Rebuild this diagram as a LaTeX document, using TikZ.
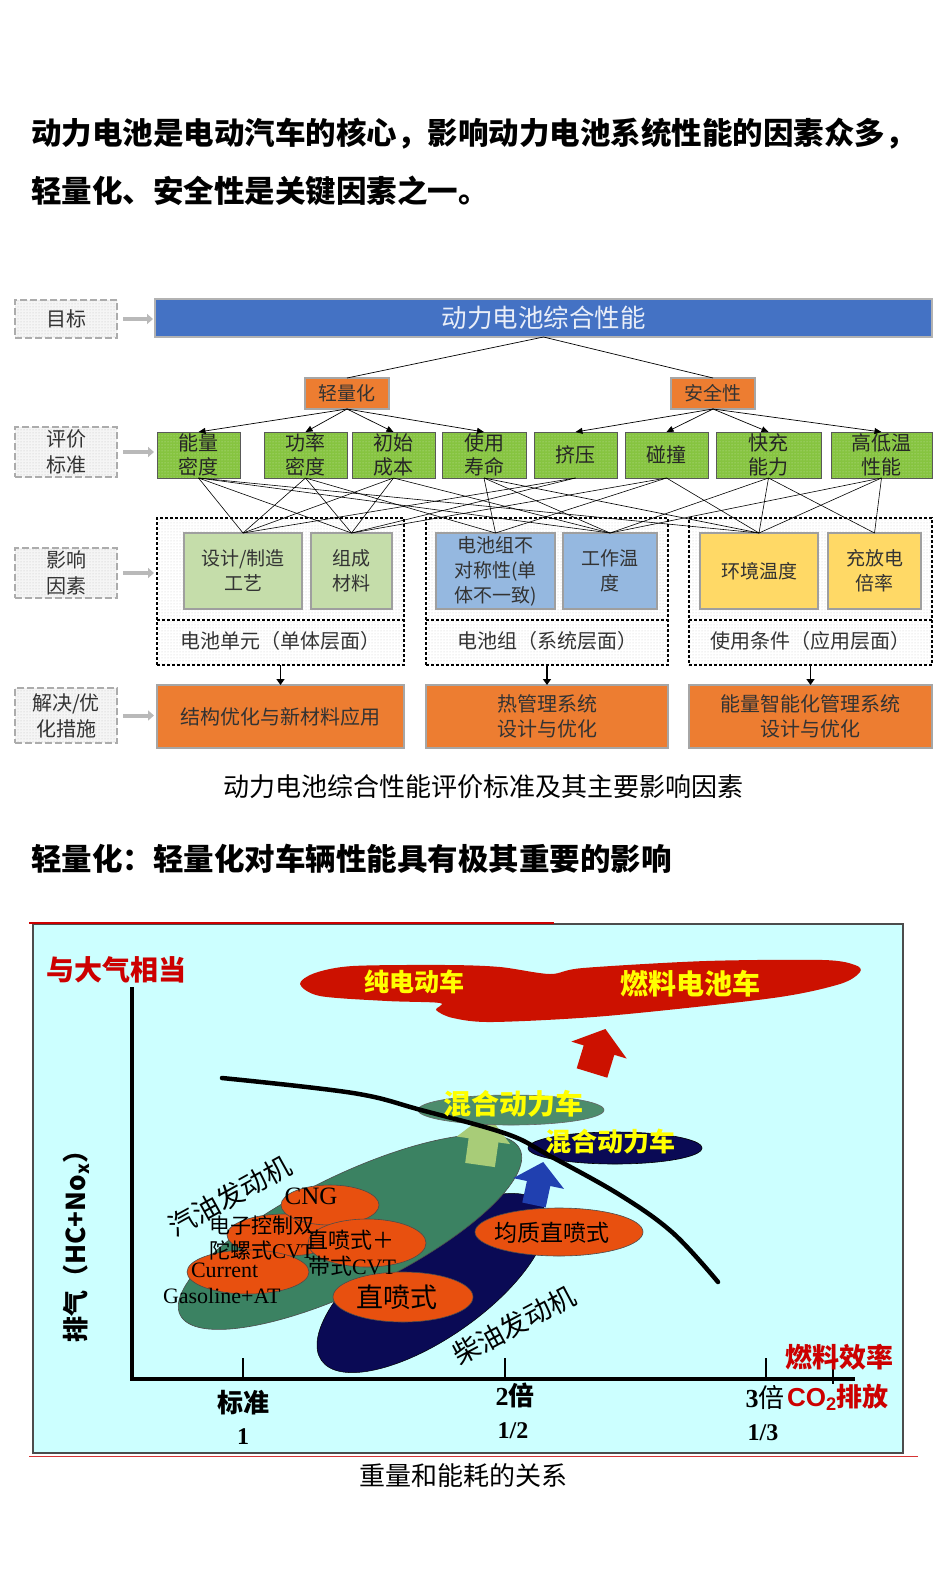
\documentclass[tikz,border=0pt]{standalone}
\usepackage{fontspec}
\setmainfont{Noto Sans CJK SC}
\newfontfamily\lserif{Liberation Serif}
\newfontfamily\lsans{Liberation Sans}
\usetikzlibrary{arrows.meta,patterns,calc}
\newcommand\fsz[2]{\fontsize{#1}{#2}\selectfont}
\definecolor{barblue}{HTML}{4472C4}
\definecolor{solorange}{HTML}{ED7D31}
\definecolor{critgreen}{HTML}{86C440}
\definecolor{factgreen}{HTML}{C5DDAA}
\definecolor{factblue}{HTML}{95B8E0}
\definecolor{factgold}{HTML}{FFD966}
\definecolor{chartbg}{HTML}{CCFFFF}
\definecolor{redcloud}{HTML}{CC1100}
\definecolor{redT}{HTML}{CC0000}
\definecolor{greenE}{HTML}{3B8262}
\definecolor{hybgreen}{HTML}{4C8C6C}
\definecolor{navyE}{HTML}{0A0A55}
\definecolor{orangeE}{HTML}{E8500F}
\definecolor{lgarrow}{HTML}{A8CC78}
\definecolor{bluearrow}{HTML}{2040B0}
\definecolor{yellowT}{HTML}{FFFF00}
\begin{document}
\begin{tikzpicture}[x=1pt,y=-1pt,
  every node/.style={inner sep=0pt, outer sep=0pt},
  lblbox/.style={draw=gray!65, dash pattern=on 7pt off 3pt, line width=1.2pt, preaction={fill=gray!8}, pattern=dots, pattern color=gray!50, minimum width=102pt, text=black!80, font=\fsz{20}{26}, align=center},
  critbox/.style={draw=gray!70!black, line width=0.8pt, preaction={fill=critgreen}, pattern=dots, pattern color=white!55!critgreen, minimum height=46pt, text=black!85, font=\fsz{20}{24}, align=center},
  factbox/.style={draw=gray!75, line width=1.6pt, minimum height=76pt, text=black!80, font=\fsz{19}{25}, align=center},
  grpbox/.style={draw=black, dash pattern=on 3pt off 2pt, line width=1.2pt, preaction={fill=white}, pattern=dots, pattern color=gray!40, minimum height=147pt},
  grpline/.style={draw=black, dash pattern=on 3pt off 2pt, line width=1.2pt},
  solbox/.style={draw=gray!70, line width=1.2pt, fill=solorange, minimum height=63pt, text=black!80, font=\fsz{20}{25}, align=center},
  midbox/.style={draw=gray!70, line width=1.2pt, fill=solorange, minimum width=84pt, minimum height=31pt, text=black!80, font=\fsz{19}{22}},
  webline/.style={draw=black, line width=0.6pt},
  harrow/.style={draw=gray!55, line width=4pt, -{Triangle[length=6pt,width=10pt]}},
  treearrow/.style={draw=black, line width=0.7pt, -{Triangle[length=7pt,width=6pt]}},
  grparrow/.style={draw=black, line width=1.8pt, -{Triangle[length=6pt,width=8pt]}},
  oell/.style={fill=orangeE, draw=black!70, line width=0.6pt}
]
\useasboundingbox (0,0) rectangle (946,1576);
\fill[white] (0,0) rectangle (946,1576);

% headline
\node[anchor=west, font=\fsz{30.5}{34}\bfseries] (h1) at (31,134) {动力电池是电动汽车的核心，影响动力电池系统性能的因素众多，};
\node[anchor=west, font=\fsz{30.5}{34}\bfseries] (h2) at (31,191) {轻量化、安全性是关键因素之一。};

% left labels
\node[lblbox, minimum height=38pt] (l1) at (66,319) {目标};
\node[lblbox, minimum height=50pt] (l2) at (66,452) {评价\\标准};
\node[lblbox, minimum height=50pt] (l3) at (66,573) {影响\\因素};
\node[lblbox, minimum height=55pt] (l4) at (66,715.5) {解决/优\\化措施};

% goal
\node[draw=gray!60, line width=1.2pt, fill=barblue, minimum width=777pt, minimum height=38pt, text=white!88!barblue, font=\fsz{25.5}{28}] (goal) at (543.5,318) {动力电池综合性能};
\node[midbox] (light) at (347,393.5) {轻量化};
\node[midbox] (safe) at (713,393.5) {安全性};
\draw[line width=0.7pt] (goal.south) -- (light.north);
\draw[line width=0.7pt] (goal.south) -- (safe.north);

% criteria
\node[critbox, minimum width=83pt] (nE) at (198.5,455) {能量\\密度};
\node[critbox, minimum width=83pt] (nP) at (305.5,455) {功率\\密度};
\node[critbox, minimum width=83pt] (nC) at (393.5,455) {初始\\成本};
\node[critbox, minimum width=84pt] (nL) at (484,455) {使用\\寿命};
\node[critbox, minimum width=83pt] (nS) at (575.5,455) {挤压};
\node[critbox, minimum width=83pt] (nK) at (666.5,455) {碰撞};
\node[critbox, minimum width=105pt] (nF) at (768.5,455) {快充\\能力};
\node[critbox, minimum width=101pt] (nT) at (881.5,455) {高低温\\性能};

\foreach \c in {nE,nP,nC,nL} \draw[treearrow] (light.south) -- (\c.north);
\foreach \c in {nS,nK,nF,nT} \draw[treearrow] (safe.south) -- (\c.north);

% groups
\node[grpbox, minimum width=247pt] (g1) at (280.5,591.5) {};
\node[grpbox, minimum width=242pt] (g2) at (547,591.5) {};
\node[grpbox, minimum width=243pt] (g3) at (810.5,591.5) {};
\draw[grpline] (157,620) -- (404,620);
\draw[grpline] (426,620) -- (668,620);
\draw[grpline] (689,620) -- (932,620);
\node[text=black!80, font=\fsz{20}{24}] (gl1) at (280.5,641) {电池单元（单体层面）};
\node[text=black!80, font=\fsz{20}{24}] (gl2) at (547,641) {电池组（系统层面）};
\node[text=black!80, font=\fsz{20}{24}] (gl3) at (810.5,641) {使用条件（应用层面）};

% factors
\node[factbox, fill=factgreen, minimum width=118pt] (fD) at (243,571) {设计/制造\\工艺};
\node[factbox, fill=factgreen, minimum width=81pt] (fM) at (351.5,571) {组成\\材料};
\node[factbox, fill=factblue, minimum width=119pt] (fA) at (495.5,571) {电池组不\\对称性(单\\体不一致)};
\node[factbox, fill=factblue, minimum width=94pt] (fW) at (610,571) {工作温\\度};
\node[factbox, fill=factgold, minimum width=118pt] (fH) at (759,571) {环境温度};
\node[factbox, fill=factgold, minimum width=93pt] (fR) at (874.5,571) {充放电\\倍率};

% web
\foreach \a/\b in {nE/fD,nE/fM,nE/fW,nE/fH,nP/fD,nP/fM,nP/fA,nC/fD,nC/fM,nC/fW,nL/fA,nL/fW,nL/fH,nS/fD,nS/fM,nK/fM,nK/fA,nK/fH,nF/fW,nF/fH,nF/fR,nT/fW,nT/fH,nT/fR}
  \draw[webline] (\a.south) -- (\b.north);

% solutions
\node[solbox, minimum width=247pt] (s1) at (280.5,716.5) {结构优化与新材料应用};
\node[solbox, minimum width=242pt] (s2) at (547,716.5) {热管理系统\\设计与优化};
\node[solbox, minimum width=243pt] (s3) at (810.5,716.5) {能量智能化管理系统\\设计与优化};
\draw[grparrow] (g1.south) -- (s1.north);
\draw[grparrow] (g2.south) -- (s2.north);
\draw[grparrow] (g3.south) -- (s3.north);

% side arrows
\draw[harrow] ([xshift=6pt]l1.east) -- ([xshift=-2pt]goal.west |- l1.east);
\draw[harrow] ([xshift=6pt]l2.east) -- ([xshift=-3pt]nE.west |- l2.east);
\draw[harrow] ([xshift=6pt]l3.east) -- ([xshift=-3pt]g1.west |- l3.east);
\draw[harrow] ([xshift=6pt]l4.east) -- ([xshift=-3pt]s1.west |- l4.east);

\node[font=\fsz{26}{30}] (cap1) at (483,787) {动力电池综合性能评价标准及其主要影响因素};

% section heading
\node[anchor=west, font=\fsz{30.5}{34}\bfseries] (h3) at (31,859) {轻量化：轻量化对车辆性能具有极其重要的影响};

% chart frame
\filldraw[fill=chartbg, draw=gray!60!black, line width=1.2pt] (33,924) rectangle (903,1453);
\draw[redT, line width=1.6pt] (29,923) -- (554,923);
\draw[redT!80, line width=1pt] (29,1456) -- (918,1456);

% big ellipses
\filldraw[fill=navyE, draw=black, line width=0.5pt, rotate around={35:(432,1283)}] (432,1283) ellipse [x radius=135, y radius=55];
\filldraw[fill=greenE, draw=black!70, line width=0.6pt, rotate around={26:(350,1232)}] (350,1232) ellipse [x radius=189, y radius=57];

% orange ellipses
\filldraw[oell] (285,1235) ellipse [x radius=58, y radius=21];
\filldraw[oell] (330,1205) ellipse [x radius=49, y radius=20];
\filldraw[oell] (248,1272) ellipse [x radius=61, y radius=22];
\filldraw[oell] (367,1243) ellipse [x radius=59, y radius=24];
\filldraw[oell] (403,1297) ellipse [x radius=70, y radius=25];
\filldraw[oell] (559,1232) ellipse [x radius=84, y radius=24];

% small arrows
\fill[lgarrow] (465.2,1162.9) -- (468.6,1138.2) -- (456.8,1136.5) -- (487.2,1113.5) -- (510.2,1144.1) -- (498.4,1142.4) -- (494.9,1167.1) -- cycle;
\fill[bluearrow] (522.3,1202.5) -- (526.9,1181) -- (513.2,1178.1) -- (543.2,1162) -- (564,1188.9) -- (550.3,1186) -- (545.7,1207.5) -- cycle;

% hybrid ellipses
\filldraw[fill=hybgreen, draw=black!60, line width=0.6pt] (511,1110) ellipse [x radius=93, y radius=15];
\filldraw[fill=navyE, draw=black, line width=0.6pt] (615,1148) ellipse [x radius=87, y radius=16];

% curve
\draw[line width=4.5pt, line cap=round] plot[smooth, tension=0.6] coordinates {(222,1078) (353,1093) (421,1110) (507,1134) (550,1156) (620,1195) (673,1233) (718,1282)};

% red cloud and arrow
\fill[redcloud] plot[smooth cycle, tension=0.5] coordinates {(300,984) (315,973) (353,966) (447,965) (500,967) (550,974) (583,968) (706,961) (823,960) (855,965) (860,972) (840,984) (773,998) (606,1016) (493,1022) (453,1018) (436,1010) (440,1003) (387,1001) (320,996)};
\fill[redcloud] (576.7,1068.3) -- (583.7,1045.4) -- (571.3,1041.6) -- (605.4,1029) -- (626.7,1058.6) -- (614.3,1054.8) -- (607.3,1077.7) -- cycle;

% chart texts
\node[font=\fsz{28}{30}\bfseries, text=redT, anchor=west] (t1) at (46,970) {与大气相当};
\node[font=\fsz{25}{28}\bfseries, text=yellowT] (t2) at (414,982) {纯电动车};
\node[font=\fsz{28}{30}\bfseries, text=yellowT] (t3) at (690,984) {燃料电池车};
\node[font=\fsz{28}{30}\bfseries, text=yellowT] (t4) at (513,1104) {混合动力车};
\node[font=\fsz{26}{28}\bfseries, text=yellowT] (t5) at (610,1142) {混合动力车};
\node[font=\fsz{27}{30}, rotate=29] (t6) at (230,1196) {汽油发动机};
\node[font=\fsz{27}{30}, rotate=28] (t7) at (514,1325) {柴油发动机};
\node[font=\fsz{25}{28}\lserif] (t8) at (311,1196) {CNG};
\node[font=\fsz{21}{24}, anchor=west] (t9) at (209,1226) {电子控制双};
\node[font=\fsz{21}{24}, anchor=west] (t10) at (209,1251) {陀螺式{\lserif CVT}};
\node[font=\fsz{22}{24}\lserif, anchor=west] (t11) at (191,1270) {Current};
\node[font=\fsz{22}{24}\lserif, anchor=west] (t12) at (163,1296) {Gasoline+AT};
\node[font=\fsz{22}{24}, anchor=west] (t13) at (306,1240) {直喷式＋};
\node[font=\fsz{22}{24}, anchor=west] (t14) at (308,1266) {带式{\lserif CVT}};
\node[font=\fsz{27}{30}] (t15) at (397,1297) {直喷式};
\node[font=\fsz{23}{26}] (t16) at (552,1233) {均质直喷式};

% axes
\draw[line width=4pt] (132,987) -- (132,1379) -- (855,1379);
\draw[line width=2pt] (243,1358) -- (243,1379);
\draw[line width=2pt] (505,1358) -- (505,1379);
\draw[line width=2pt] (766,1358) -- (766,1379);
\draw[line width=2pt] (833,1360) -- (833,1384);

\node[font=\fsz{26}{28}\bfseries, rotate=90] (ylab) at (76,1240) {排气（HC+No\textsubscript{x}）};
\node[font=\fsz{26}{28}\bfseries] (x1) at (243,1403) {标准};
\node[font=\fsz{24}{26}\lserif\bfseries] (x1b) at (243,1437) {1};
\node[font=\fsz{26}{28}\bfseries] (x2) at (515,1395) {{\lserif 2}倍};
\node[font=\fsz{24}{26}\lserif\bfseries] (x2b) at (513,1431) {1/2};
\node[font=\fsz{26}{28}] (x3) at (765,1397) {{\lserif\bfseries 3}倍};
\node[font=\fsz{24}{26}\lserif\bfseries] (x3b) at (763,1433) {1/3};
\node[font=\fsz{26}{28}\bfseries, text=redT] (x4) at (838,1397) {{\lsans CO\textsubscript{2}}排放};
\node[font=\fsz{27}{28}\bfseries, text=redT] (x5) at (839,1357) {燃料效率};

\node[font=\fsz{26}{30}] (cap2) at (463,1476) {重量和能耗的关系};
\end{tikzpicture}
\end{document}
